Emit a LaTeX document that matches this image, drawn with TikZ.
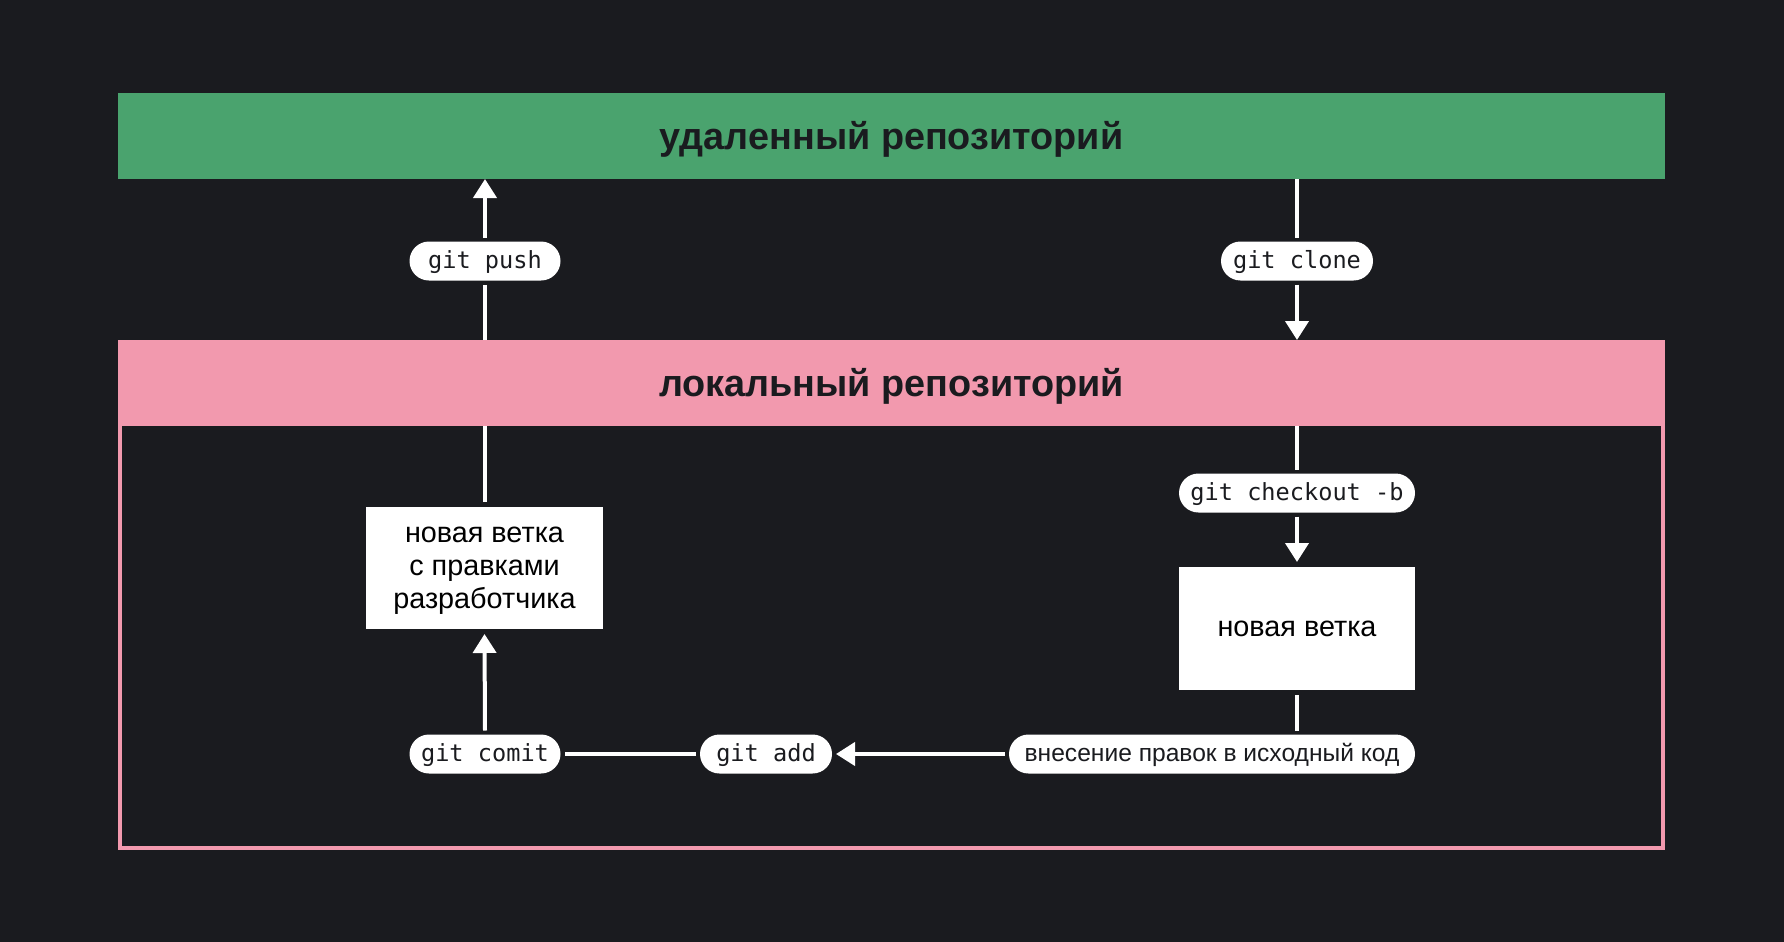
\documentclass[tikz,border=0pt]{standalone}
\usepackage{fontspec}
\setmainfont{Liberation Sans}
\setmonofont{DejaVu Sans Mono}
\usetikzlibrary{arrows.meta}
\definecolor{bg}{HTML}{1A1B1F}
\definecolor{grn}{HTML}{4AA36E}
\definecolor{pnk}{HTML}{F299AE}
\begin{document}
\begin{tikzpicture}[x=0.5pt,y=-0.5pt,
 header/.style={rectangle, minimum width=773.5pt, minimum height=43pt, inner sep=0pt, outer sep=0pt, font=\fontsize{18.9}{22}\selectfont\bfseries, text=bg, text depth=0.6pt},
 pill/.style={rectangle, rounded corners=9.75pt, fill=white, text=bg, minimum height=19.5pt, inner sep=0pt, outer sep=2pt, font=\ttfamily\fontsize{11.8}{14}\selectfont, text depth=1.7pt},
 box/.style={rectangle, fill=white, text=black, inner sep=0pt, outer sep=2.5pt, align=center, font=\fontsize{14.4}{16.5}\selectfont, text depth=-3pt},
 line/.style={draw=white, line width=2pt},
 arr/.style={line, -{Triangle[width=11.5pt,length=9.5pt]}},
]
\fill[bg] (0,0) rectangle (1784,942);
\useasboundingbox (0,0) rectangle (1784,942);
% frame
\node[draw=pnk, line width=2pt, minimum width=771.5pt, minimum height=252.5pt, inner sep=0pt] (frame) at (891.5,595) {};
\node[header, fill=grn] (remote) at (891.5,136) {удаленный репозиторий};
\node[header, fill=pnk] (local) at (891.5,383) {локальный репозиторий};
% pills
\node[pill, minimum width=75.5pt] (push) at (485,261) {git push};
\node[pill, minimum width=76pt] (clone) at (1297,261) {git clone};
\node[pill, minimum width=118pt] (checkout) at (1297,493) {git checkout -b};
\node[pill, minimum width=75.5pt] (comit) at (485,754) {git comit};
\node[pill, minimum width=66pt] (add) at (766,754) {git add};
\node[pill, minimum width=203pt, font=\fontsize{12.3}{14}\selectfont] (edit) at (1212,754) {внесение правок в исходный код};
% boxes
\node[box, minimum width=118.5pt, minimum height=61pt] (devbranch) at (484.5,568) {новая ветка\\с правками\\разработчика};
\node[box, minimum width=118pt, minimum height=61.5pt] (newbranch) at (1297,628.5) {новая ветка};
% connectors
\draw[line] (push |- local.north) -- (push.south);
\draw[arr] (push.north) -- (push |- remote.south);
\draw[line] (clone |- remote.south) -- (clone.north);
\draw[arr] (clone.south) -- (clone |- local.north);
\draw[line] (checkout |- local.south) -- (checkout.north);
\draw[arr] (checkout.south) -- (newbranch.north);
\draw[line] (newbranch.south) -- (newbranch |- edit.north);
\draw[arr] (edit.west) -- (add.east);
\draw[line] (add.west) -- (comit.east);
\draw[arr] (comit.north) -- (devbranch.south);
\draw[line] (devbranch.north) -- (devbranch |- local.south);
\end{tikzpicture}
\end{document}
